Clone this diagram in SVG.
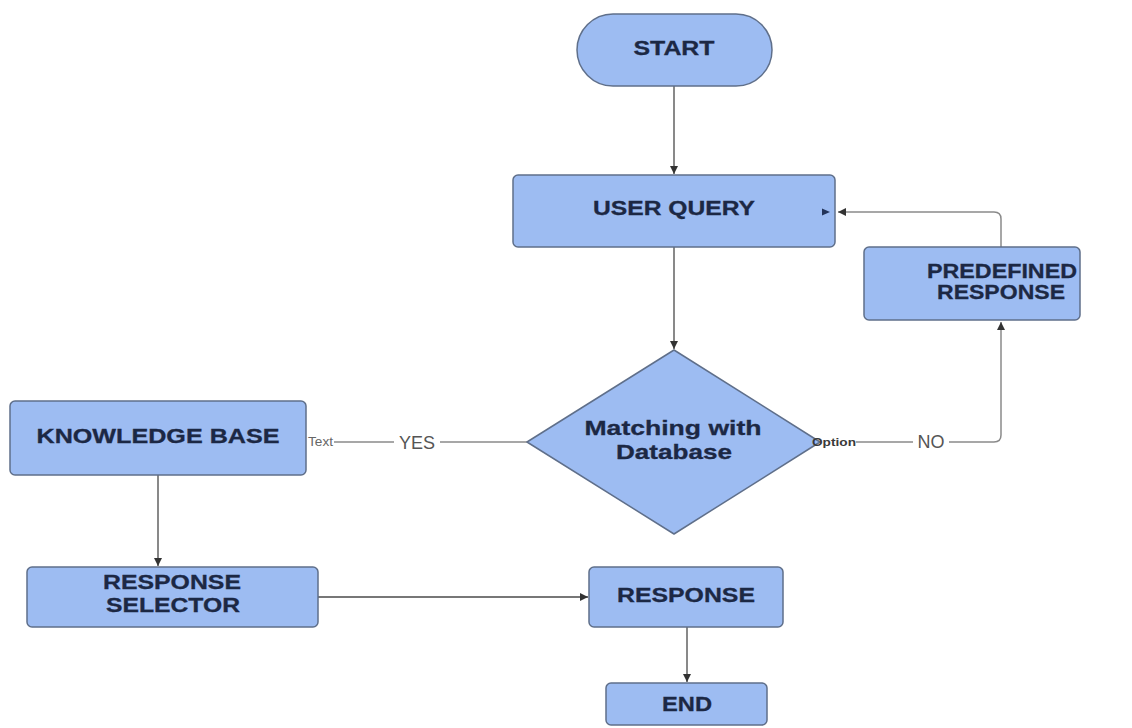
<svg xmlns="http://www.w3.org/2000/svg" width="1132" height="728" viewBox="0 0 1132 728">
  <style>
    .box { fill: #9dbcf2; stroke: #5f6f8a; stroke-width: 1.5; }
    .lbl { font-family: "Liberation Sans", Arial, sans-serif; font-weight: bold; font-size: 21px; fill: #1c2844; text-anchor: middle; stroke: #1c2844; stroke-width: 0.3; }
    .wire { fill: none; stroke: #4a4a4a; stroke-width: 1.3; }
    .wire-light { fill: none; stroke: #8a8a8a; stroke-width: 1.5; }
    .edge-lbl { font-family: "Liberation Sans", Arial, sans-serif; font-size: 18px; fill: #555; text-anchor: middle; }
    .tiny { font-family: "Liberation Sans", Arial, sans-serif; font-size: 12px; fill: #666; }
  </style>
  <defs>
    <marker id="arrow" markerWidth="10" markerHeight="10" refX="8" refY="4" orient="auto" markerUnits="userSpaceOnUse">
      <path d="M0,0 L8,4 L0,8 z" fill="#333"/>
    </marker>
  </defs>
  <rect width="1132" height="728" fill="#ffffff"/>

  <g id="connectors">
    <!-- START to USER QUERY -->
    <line class="wire" x1="674" y1="86" x2="674" y2="174" marker-end="url(#arrow)"/>
    <!-- USER QUERY to decision -->
    <line class="wire" x1="674" y1="247" x2="674" y2="349" marker-end="url(#arrow)"/>
    <!-- decision YES branch to KNOWLEDGE BASE -->
    <line class="wire-light" x1="527" y1="442" x2="440" y2="442"/>
    <line class="wire-light" x1="394" y1="442" x2="334" y2="442"/>
    <text class="tiny" x="308" y="446" textLength="25" lengthAdjust="spacingAndGlyphs">Text</text>
    <text class="edge-lbl" x="417" y="449">YES</text>
    <!-- decision NO branch up to PREDEFINED RESPONSE -->
    <line class="wire-light" x1="856" y1="442" x2="913" y2="442"/>
    <path class="wire-light" d="M949,442 H994 Q1001,442 1001,435 V322" marker-end="url(#arrow)"/>
    <text class="edge-lbl" x="931" y="448">NO</text>
    <!-- PREDEFINED RESPONSE back to USER QUERY -->
    <path class="wire-light" d="M1001,247 V219 Q1001,212 994,212 H838" marker-end="url(#arrow)"/>
    <!-- KNOWLEDGE BASE to RESPONSE SELECTOR -->
    <line class="wire" x1="158" y1="475" x2="158" y2="566" marker-end="url(#arrow)"/>
    <!-- RESPONSE SELECTOR to RESPONSE -->
    <line class="wire" x1="318" y1="597" x2="588" y2="597" marker-end="url(#arrow)"/>
    <!-- RESPONSE to END -->
    <line class="wire" x1="687" y1="627" x2="687" y2="682" marker-end="url(#arrow)"/>
  </g>

  <g id="start">
    <rect class="box" x="577" y="14" width="195" height="72" rx="36" ry="36"/>
    <text class="lbl" x="674" y="55" textLength="81" lengthAdjust="spacingAndGlyphs">START</text>
  </g>

  <g id="user-query">
    <rect class="box" x="513" y="175" width="322" height="72" rx="5"/>
    <text class="lbl" x="674" y="215" textLength="162" lengthAdjust="spacingAndGlyphs">USER QUERY</text>
    <!-- small inbound port mark on the right edge -->
    <path d="M822,208.5 L830,212 L822,215.5 z" fill="#23345a"/>
  </g>

  <g id="predefined-response">
    <rect class="box" x="864" y="247" width="216" height="73" rx="5"/>
    <text class="lbl" x="1002" y="278" textLength="150" lengthAdjust="spacingAndGlyphs">PREDEFINED</text>
    <text class="lbl" x="1001" y="299" textLength="128" lengthAdjust="spacingAndGlyphs">RESPONSE</text>
  </g>

  <g id="matching-decision">
    <path class="box" d="M674,350 L820,442 L674,534 L527,442 Z" stroke="#3f5070" stroke-width="2" stroke-linejoin="round"/>
    <text class="lbl" x="673" y="435" textLength="177" lengthAdjust="spacingAndGlyphs">Matching with</text>
    <text class="lbl" x="674" y="459" textLength="116" lengthAdjust="spacingAndGlyphs">Database</text>
    <text x="812" y="446" font-family="Liberation Sans, Arial, sans-serif" font-size="11" font-weight="bold" fill="#3a3a3a" textLength="44" lengthAdjust="spacingAndGlyphs">Option</text>
  </g>

  <g id="knowledge-base">
    <rect class="box" x="10" y="401" width="296" height="74" rx="5"/>
    <text class="lbl" x="158" y="443" textLength="243" lengthAdjust="spacingAndGlyphs">KNOWLEDGE BASE</text>
  </g>

  <g id="response-selector">
    <rect class="box" x="27" y="567" width="291" height="60" rx="5"/>
    <text class="lbl" x="172" y="589" textLength="138" lengthAdjust="spacingAndGlyphs">RESPONSE</text>
    <text class="lbl" x="173" y="612" textLength="134" lengthAdjust="spacingAndGlyphs">SELECTOR</text>
  </g>

  <g id="response">
    <rect class="box" x="589" y="567" width="194" height="60" rx="5"/>
    <text class="lbl" x="686" y="602" textLength="138" lengthAdjust="spacingAndGlyphs">RESPONSE</text>
  </g>

  <g id="end">
    <rect class="box" x="606" y="683" width="161" height="42" rx="5"/>
    <text class="lbl" x="687" y="711" textLength="50" lengthAdjust="spacingAndGlyphs">END</text>
  </g>
</svg>
